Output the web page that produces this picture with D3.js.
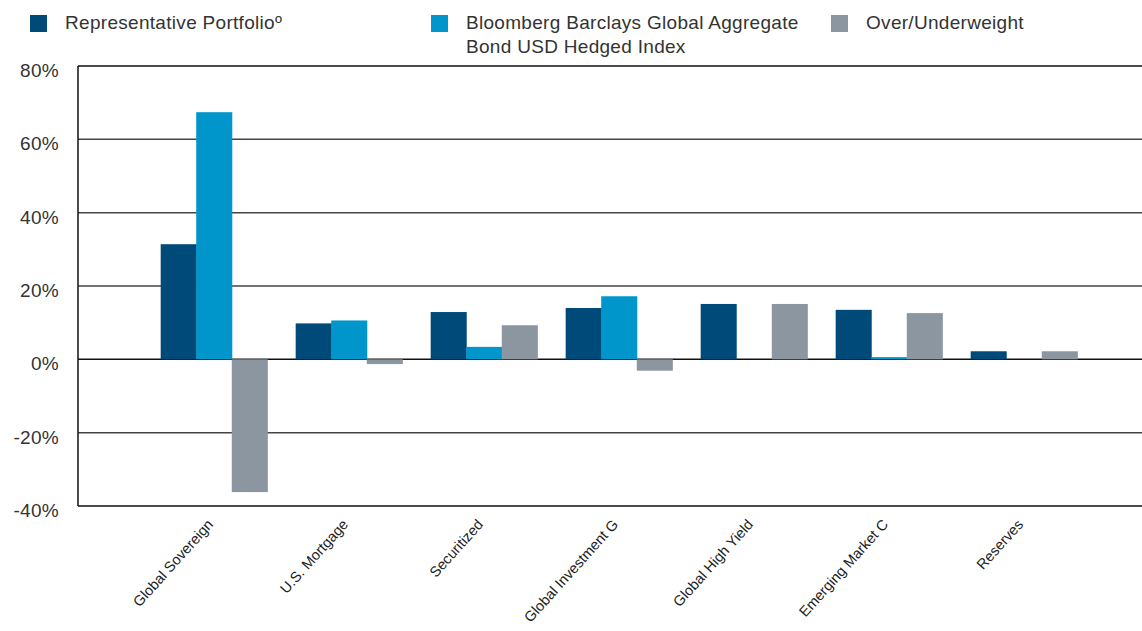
<!DOCTYPE html>
<html>
<head>
<meta charset="utf-8">
<script src="https://cdn.jsdelivr.net/npm/d3@7"></script>
<style>
  body { margin: 0; background: #fff; }
  #chart { width: 1142px; height: 631px; }
  text { font-family: "Liberation Sans", Arial, sans-serif; }
</style>
</head>
<body>
<div id="chart"></div>
<script>
const categories = ["Global Sovereign", "U.S. Mortgage", "Securitized", "Global Investment G",
  "Global High Yield", "Emerging Market C", "Reserves"];
const portfolio = [31.4, 9.8, 12.9, 14.0, 15.1, 13.5, 2.2];
const benchmark = [67.4, 10.6, 3.4, 17.2, 0, 0.6, 0];
const overUnder = [-36.2, -1.3, 9.3, -3.1, 15.1, 12.6, 2.2];
const seriesNames = ["Representative Portfolioº", "Bloomberg Barclays Global Aggregate|Bond USD Hedged Index", "Over/Underweight"];
const yTicks = [-40, -20, 0, 20, 40, 60, 80];

const colors = ["#004a7a", "#0096cb", "#8c96a1"];

const width = 1142;
const height = 631;
const margin = {top: 66, left: 78, right: 0, bottom: 125};

const svg = d3.select("#chart")
  .append("svg")
  .attr("width", width)
  .attr("height", height);

const yScale = d3.scaleLinear()
  .domain([-40, 80])
  .range([height - margin.bottom, margin.top]);

// bands don't fill the whole plot, there's empty room on both sides
const xScale = d3.scaleBand()
  .domain(categories)
  .range([146.5, 1091.5])
  .paddingInner(0.21)
  .paddingOuter(0.105);

const sub = d3.scaleBand()
  .domain([0, 1, 2])
  .range([0, xScale.bandwidth()]);

// gridlines
svg.append("g")
  .selectAll("line")
  .data(yTicks)
  .enter()
  .append("line")
    .attr("x1", margin.left)
    .attr("x2", width - margin.right)
    .attr("y1", d => yScale(d))
    .attr("y2", d => yScale(d))
    .attr("stroke", d => (d == 0 || d == 80 || d == -40) ? "#111" : "#444")
    .attr("stroke-width", 1.5);

svg.append("line")
  .attr("x1", margin.left).attr("x2", margin.left)
  .attr("y1", yScale(80)).attr("y2", yScale(-40))
  .attr("stroke", "#111").attr("stroke-width", 1.5);

// y labels
svg.append("g")
  .selectAll("text")
  .data(yTicks)
  .enter()
  .append("text")
    .attr("x", 59)
    .attr("y", d => yScale(d) + 11)
    .attr("text-anchor", "end")
    .attr("font-size", 19)
    .attr("letter-spacing", 0.3)
    .attr("fill", "#333")
    .text(d => d + "%");

// bars
const series = [portfolio, benchmark, overUnder];
const rows = [];
categories.forEach((c, i) => {
  series.forEach((s, j) => rows.push({cat: c, k: j, v: s[i]}));
});

svg.append("g")
  .selectAll("rect")
  .data(rows.filter(d => d.v != 0))
  .enter()
  .append("rect")
    .attr("x", d => xScale(d.cat) + sub(d.k))
    .attr("width", sub.bandwidth() + 0.5)
    .attr("y", d => yScale(Math.max(0, d.v)))
    .attr("height", d => Math.abs(yScale(d.v) - yScale(0)))
    .attr("fill", d => colors[d.k]);

// x labels
svg.append("g")
  .selectAll("text")
  .data(categories)
  .enter()
  .append("text")
    .attr("transform", d => `translate(${xScale(d) + xScale.bandwidth() / 2},525) rotate(-48)`)
    .attr("text-anchor", "end")
    .attr("font-size", 14.5)
    .attr("font-family", "'Liberation Sans Narrow', 'DejaVu Sans Condensed', sans-serif")
    .attr("fill", "#222")
    .text(d => d);

// legend
const legendX = [30, 431, 831];
const legend = svg.append("g");
seriesNames.forEach((name, i) => {
  legend.append("rect")
    .attr("x", legendX[i]).attr("y", 15)
    .attr("width", 17).attr("height", 17)
    .attr("fill", colors[i]);
  name.split("|").forEach((line, j) => {
    legend.append("text")
      .attr("x", legendX[i] + 35)
      .attr("y", 29 + j * 24)
      .attr("font-size", 19)
      .attr("letter-spacing", 0.3)
      .attr("fill", "#333")
      .text(line);
  });
});
</script>
</body>
</html>
